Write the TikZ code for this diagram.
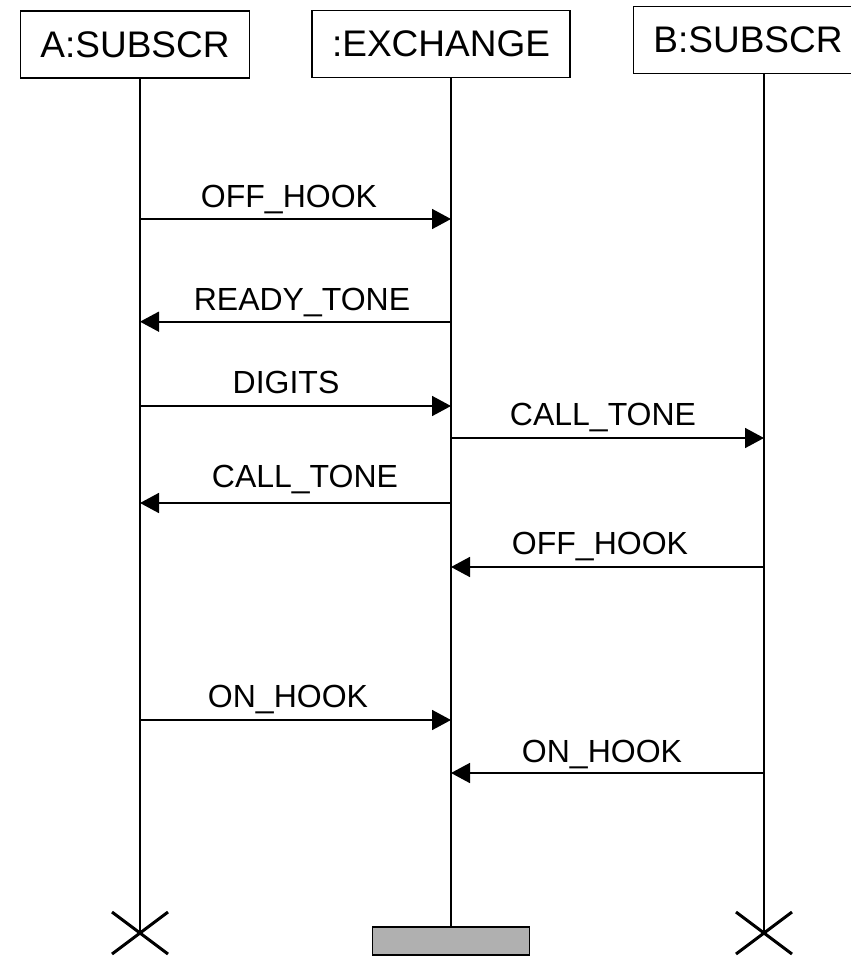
\documentclass[tikz,border=0pt]{standalone}
\usepackage{fontspec}
\setmainfont{Liberation Sans}
\usetikzlibrary{arrows.meta}
\definecolor{stopgray}{HTML}{B0B0B0}

\begin{document}
\begin{tikzpicture}[x=1pt,y=-1pt,
  obj/.style={draw,line width=1.6pt,inner xsep=20pt,inner ysep=0pt,minimum height=67pt,font=\fontsize{37}{40}\selectfont},
  lbl/.style={anchor=base,font=\fontsize{32}{36}\selectfont},
  life/.style={line width=1.6pt},
  msg/.style={line width=1.6pt,-{Triangle[length=19pt,width=20pt]}},
  endx/.style={line width=3pt}]
\useasboundingbox (0,0) rectangle (851,956);

%Objects
\node[obj] (A) at (135,44.5) {A:SUBSCR};
\node[obj] (EX) at (441,44) {:EXCHANGE};
\node[obj] (B) at (748,40) {B:SUBSCR};

%Lifelines
\coordinate (la) at (140,78);
\coordinate (lae) at (140,933);
\coordinate (le) at (451,77);
\coordinate (lee) at (451,926);
\coordinate (lb) at (764,73);
\coordinate (lbe) at (764,933);
\draw[life] (la) -- (lae);
\draw[life] (le) -- (lee);
\draw[life] (lb) -- (lbe);

%Messages
\foreach \from/\to/\y/\lx/\ly/\txt [count=\i] in {
  la/le/219/289/207/OFF\_HOOK,
  le/la/321.7/302/310/READY\_TONE,
  la/le/406/286/393/DIGITS,
  le/lb/438/603/425/CALL\_TONE,
  le/la/503/305/487/CALL\_TONE,
  lb/le/567/600/554/OFF\_HOOK,
  la/le/720/288/707/ON\_HOOK,
  lb/le/773/602/762/ON\_HOOK}
{
  \draw[msg] (\from |- 0,\y) -- (\to |- 0,\y);
  \node[lbl] (m\i) at (\lx,\ly) {\txt};
}

%Ends
\foreach \c in {lae,lbe}
  \draw[endx] ([shift={(-28,-21)}]\c) -- ([shift={(28,21)}]\c)
              ([shift={(-28,21)}]\c) -- ([shift={(28,-21)}]\c);
\node[draw,fill=stopgray,line width=1.6pt,minimum width=157pt,minimum height=28pt,inner sep=0pt,anchor=north] (stop) at (lee) {};
\end{tikzpicture}
\end{document}
